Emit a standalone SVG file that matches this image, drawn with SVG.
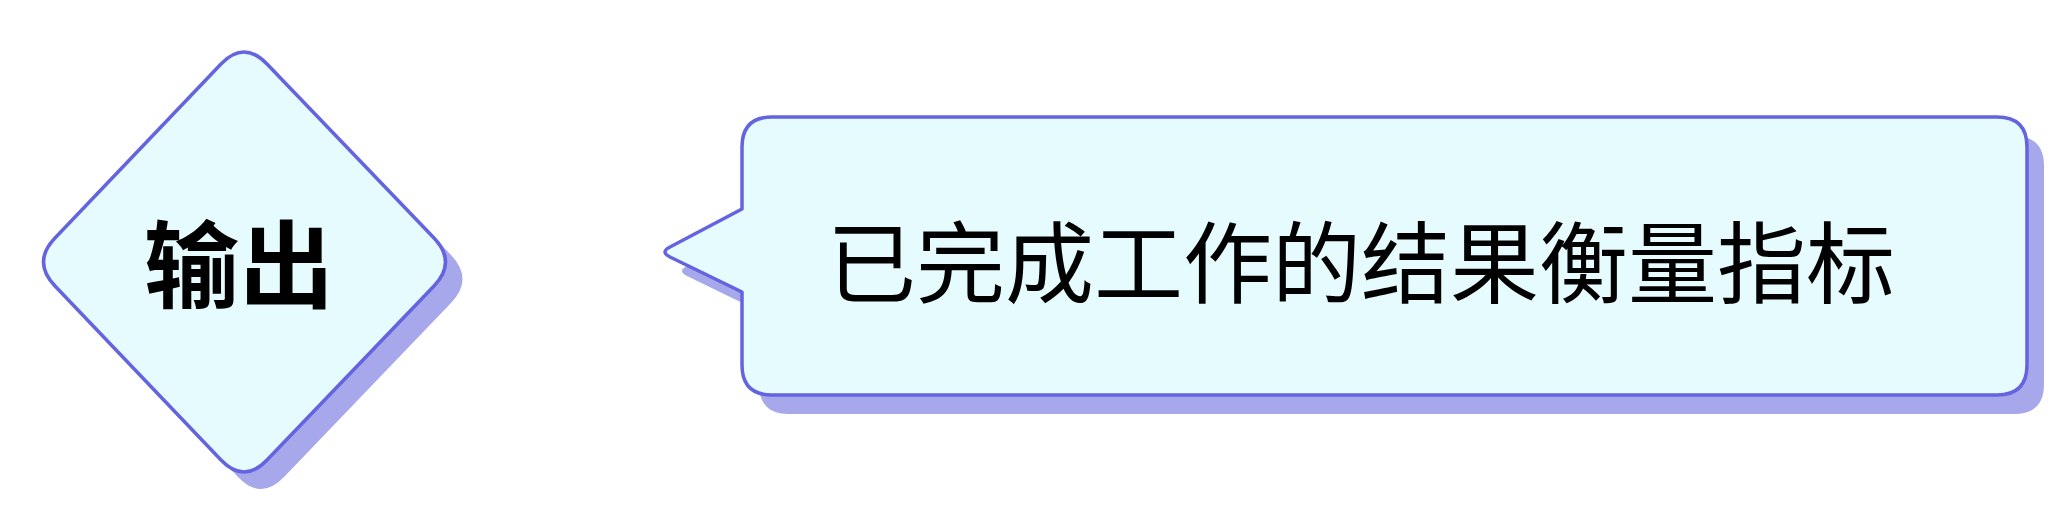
<svg xmlns="http://www.w3.org/2000/svg" width="2056" height="512" viewBox="0 0 2056 512">
  <defs>
    <style>
      .shadow { fill: #a7a7ec; stroke: none; }
      .shape { fill: #e6fbfd; stroke: #6464e0; stroke-width: 3.5; stroke-linejoin: round; }
      .label { font-family: "Noto Sans CJK SC", "Noto Sans", sans-serif; fill: #000000; }
    </style>
  </defs>
  <rect x="0" y="0" width="2056" height="512" fill="#ffffff"/>
  <g id="node-output">
    <path class="shadow" transform="translate(17,17)" d="M 221,64 Q 244,40 267,64 L 434,238 Q 457,262 434,286 L 267,460 Q 244,484 221,460 L 55,286 Q 32,262 55,238 Z"/>
    <path class="shape" d="M 221,64 Q 244,40 267,64 L 434,238 Q 457,262 434,286 L 267,460 Q 244,484 221,460 L 55,286 Q 32,262 55,238 Z"/>
    <text class="label" x="239" y="301" font-size="95" font-weight="bold" text-anchor="middle">输出</text>
  </g>
  <g id="node-callout">
    <path class="shadow" transform="translate(17,19)" d="M 772,117 L 1997,117 Q 2027,117 2027,147 L 2027,365 Q 2027,395 1997,395 L 772,395 Q 742,395 742,365 L 742,292 L 670,257 Q 660,252 670,247 L 742,209 L 742,147 Q 742,117 772,117 Z"/>
    <path class="shape" d="M 772,117 L 1997,117 Q 2027,117 2027,147 L 2027,365 Q 2027,395 1997,395 L 772,395 Q 742,395 742,365 L 742,292 L 670,257 Q 660,252 670,247 L 742,209 L 742,147 Q 742,117 772,117 Z"/>
    <text class="label" x="1361" y="296" font-size="89" text-anchor="middle">已完成工作的结果衡量指标</text>
  </g>
  <g id="connectors"></g>
</svg>
